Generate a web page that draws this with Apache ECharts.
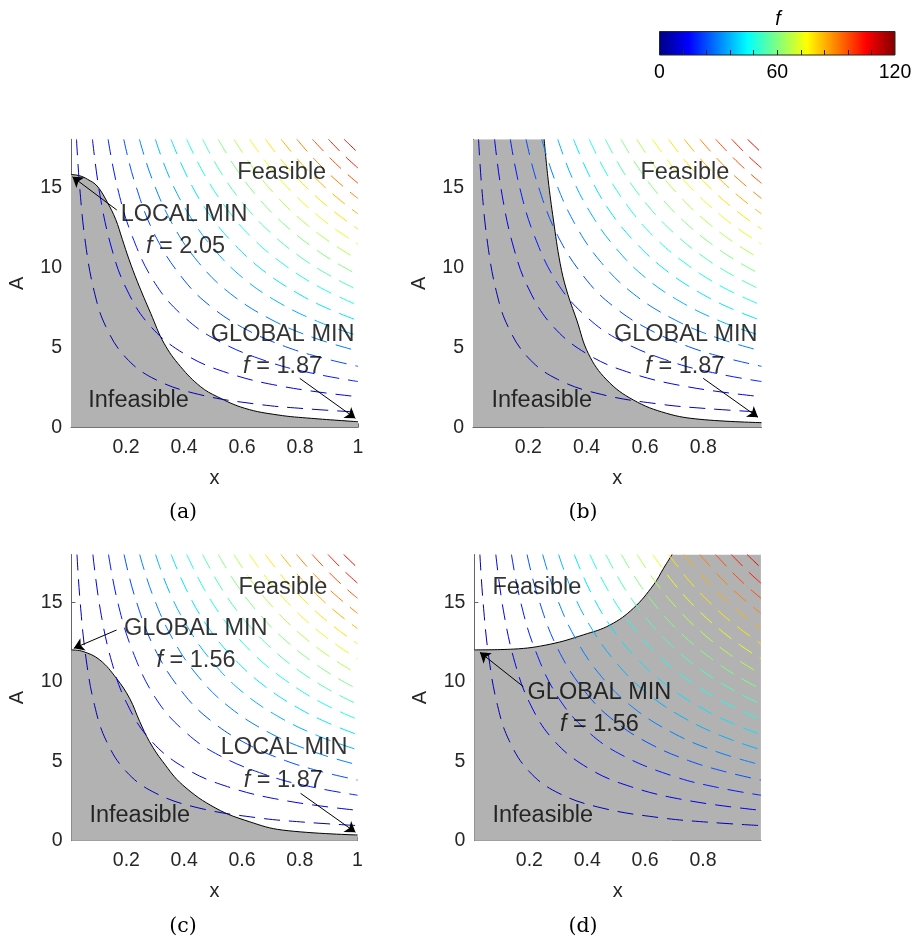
<!DOCTYPE html>
<html>
<head>
<meta charset="utf-8">
<script src="https://cdn.jsdelivr.net/npm/echarts@6/dist/echarts.min.js"></script>
<style>
  html, body { margin: 0; padding: 0; background: #fff; }
  #main { width: 916px; height: 939px; }
</style>
</head>
<body>
<div id="main"></div>
<script>
// contour levels of f (same field in all four panels)
const levels = [6, 12, 18, 24, 30, 36, 42, 48, 54, 60, 66, 72, 78, 84, 90, 96, 102, 108]
// contour lines, [x, A] points, one list per level
const contours = [
  [[0.029, 18], [0.04, 15.0], [0.06, 11.5], [0.09, 8.5], [0.13, 6.3], [0.2, 4.34], [0.3, 3.0], [0.45, 2.06], [0.65, 1.45], [0.82, 1.16], [1, 0.95]],
  [[0.084, 18], [0.11, 14.5], [0.15, 11.2], [0.2, 8.7], [0.28, 6.4], [0.4, 4.6], [0.55, 3.4], [0.75, 2.52], [1, 1.91]],
  [[0.138, 18], [0.17, 15.0], [0.22, 12.0], [0.3, 9.0], [0.4, 6.9], [0.52, 5.38], [0.7, 4.04], [0.85, 3.35], [1, 2.86]],
  [[0.192, 18], [0.23, 15.3], [0.3, 12.0], [0.4, 9.2], [0.5, 7.44], [0.62, 6.06], [0.75, 5.04], [0.87, 4.37], [1, 3.81]],
  [[0.246, 18], [0.29, 15.5], [0.36, 12.7], [0.45, 10.3], [0.56, 8.35], [0.7, 6.74], [0.85, 5.58], [1, 4.77]],
  [[0.301, 18], [0.35, 15.6], [0.42, 13.2], [0.5, 11.2], [0.6, 9.38], [0.72, 7.87], [0.86, 6.62], [1, 5.72]],
  [[0.355, 18], [0.41, 15.7], [0.48, 13.5], [0.57, 11.5], [0.68, 9.7], [0.8, 8.29], [0.9, 7.39], [1, 6.67]],
  [[0.409, 18], [0.47, 15.8], [0.55, 13.6], [0.64, 11.75], [0.75, 10.1], [0.87, 8.73], [1, 7.63]],
  [[0.464, 18], [0.53, 15.84], [0.61, 13.85], [0.7, 12.13], [0.8, 10.66], [0.9, 9.51], [1, 8.58]],
  [[0.518, 18], [0.58, 16.15], [0.66, 14.26], [0.75, 12.61], [0.85, 11.17], [0.93, 10.23], [1, 9.53]],
  [[0.572, 18], [0.64, 16.16], [0.72, 14.43], [0.8, 13.03], [0.9, 11.62], [1, 10.48]],
  [[0.626, 18], [0.7, 16.17], [0.78, 14.56], [0.86, 13.25], [0.93, 12.28], [1, 11.44]],
  [[0.681, 18], [0.75, 16.39], [0.83, 14.86], [0.91, 13.58], [1, 12.39]],
  [[0.735, 18], [0.8, 16.58], [0.87, 15.28], [0.94, 14.17], [1, 13.34]],
  [[0.789, 18], [0.85, 16.75], [0.92, 15.51], [1, 14.3]],
  [[0.843, 18], [0.9, 16.9], [0.95, 16.03], [1, 15.25]],
  [[0.898, 18], [0.95, 17.03], [1, 16.2]],
  [[0.952, 18], [0.975, 17.6], [1, 17.16]]
]

// constraint boundary of each panel
const edgeA = [[0.01, 15.8], [0.04, 15.72], [0.067, 15.5], [0.1, 15.08], [0.136, 14.04], [0.164, 13.0], [0.187, 11.75], [0.21, 10.5], [0.239, 9.1], [0.285, 7.12], [0.331, 5.25], [0.388, 3.79], [0.457, 2.54], [0.515, 1.91], [0.609, 1.19], [0.724, 0.77], [0.839, 0.56], [1, 0.35]]
const edgeB = [[0.254, 18], [0.268, 15.46], [0.286, 12.96], [0.309, 10.25], [0.331, 8.58], [0.366, 6.7], [0.406, 4.6], [0.469, 2.96], [0.56, 1.71], [0.674, 0.875], [0.789, 0.5], [1, 0.29]]
const edgeC = [[0.01, 12.0], [0.05, 11.9], [0.108, 11.37], [0.166, 10.2], [0.211, 8.96], [0.246, 7.5], [0.28, 6.23], [0.326, 4.97], [0.395, 3.5], [0.51, 2.04], [0.625, 1.2], [0.74, 0.67], [1, 0.36]]
const edgeD = [[0.01, 12.0], [0.145, 12.05], [0.272, 12.36], [0.387, 12.95], [0.479, 13.57], [0.56, 14.63], [0.629, 16.09], [0.664, 17.14], [0.693, 18]]
// infeasible strips that run along the top edge
const topB = [[0.01, 18], [0.257, 18]]
const topD = [[0.689, 18], [1, 18]]

// annotations [x, A, text]
const notesA = [[0.737, 15.93, 'Feasible'], [0.40, 13.27, 'LOCAL MIN'], [0.405, 11.33, 'f = 2.05'], [0.74, 5.83, 'GLOBAL MIN'], [0.74, 3.83, 'f = 1.87'], [0.243, 1.65, 'Infeasible']]
const notesB = [[0.737, 15.93, 'Feasible'], [0.74, 5.83, 'GLOBAL MIN'], [0.737, 3.83, 'f = 1.87'], [0.246, 1.65, 'Infeasible']]
const notesC = [[0.742, 15.92, 'Feasible'], [0.44, 13.36, 'GLOBAL MIN'], [0.441, 11.31, 'f = 1.56'], [0.746, 5.83, 'LOCAL MIN'], [0.743, 3.81, 'f = 1.87'], [0.246, 1.57, 'Infeasible']]
const notesD = [[0.226, 15.92, 'Feasible'], [0.442, 9.32, 'GLOBAL MIN'], [0.442, 7.31, 'f = 1.56'], [0.246, 1.57, 'Infeasible']]
// arrows [from, to]
const arrowsA = [[[0.168, 13.58], [0.015, 15.66]], [[0.799, 3.06], [0.991, 0.56]]]
const arrowsB = [[[0.8, 3.06], [0.988, 0.63]]]
const arrowsC = [[[0.166, 13.25], [0.018, 12.1]], [[0.803, 2.98], [0.993, 0.53]]]
const arrowsD = [[[0.179, 9.69], [0.029, 11.85]]]

const xTicksFull = [0.2, 0.4, 0.6, 0.8, 1]
const xTicksShort = [0.2, 0.4, 0.6, 0.8]
const yTicks = [0, 5, 10, 15]
const cbLabels = [0, 60, 120]
const cbTicks = [12, 24, 36, 48, 60, 72, 84, 96, 108]
const captions = ['(a)', '(b)', '(c)', '(d)']

const sans = '"Liberation Sans", Arial, Helvetica, sans-serif'
const ink = '#262626'
const grey = '#b2b2b2'

function jet(v) {
  const t = v / 120
  const c = (a) => Math.round(255 * Math.max(0, Math.min(1, a)))
  return 'rgb(' + c(1.5 - Math.abs(4 * t - 3)) + ',' + c(1.5 - Math.abs(4 * t - 2)) + ',' + c(1.5 - Math.abs(4 * t - 1)) + ')'
}

const panels = [
  { edge: edgeA, top: null, notes: notesA, arrows: arrowsA, xt: xTicksFull },
  { edge: edgeB, top: topB, notes: notesB, arrows: arrowsB, xt: xTicksShort },
  { edge: edgeC, top: null, notes: notesC, arrows: arrowsC, xt: xTicksFull },
  { edge: edgeD, top: topD, notes: notesD, arrows: arrowsD, xt: xTicksShort }
]

const grid = [
  { left: 71, top: 139.3, width: 287, height: 288 },
  { left: 473, top: 139.3, width: 288.5, height: 288 },
  { left: 71.5, top: 554.5, width: 286, height: 286.2 },
  { left: 474.4, top: 554.5, width: 286.5, height: 286.2 },
  {
    left: 659.5, top: 31.5, width: 235.5, height: 23.5, show: true,
    borderColor: ink, borderWidth: 1,
    backgroundColor: {
      type: 'linear', x: 0, y: 0, x2: 1, y2: 0,
      colorStops: [
        { offset: 0, color: '#000084' }, { offset: 0.125, color: '#0000ff' },
        { offset: 0.375, color: '#00ffff' }, { offset: 0.625, color: '#ffff00' },
        { offset: 0.875, color: '#ff0000' }, { offset: 1, color: '#800000' }
      ]
    }
  }
]
grid.forEach(g => { g.outerBoundsMode = 'none' })

const xAxis = []
const yAxis = []
const series = []

panels.forEach((p, k) => {
  xAxis.push({
    gridIndex: k, type: 'value', min: 0.01, max: 1,
    name: 'x', nameLocation: 'middle', nameGap: 41,
    nameTextStyle: { fontSize: 20, color: ink, fontFamily: sans },
    axisLine: { onZero: false, lineStyle: { color: '#666', width: 1 } },
    axisTick: { inside: true, length: 4, customValues: p.xt, lineStyle: { color: '#666' } },
    axisLabel: { customValues: p.xt, fontSize: 19.5, color: ink, fontFamily: sans, margin: 10 },
    splitLine: { show: false }
  })
  yAxis.push({
    gridIndex: k, type: 'value', min: 0, max: 18,
    name: 'A', nameLocation: 'middle', nameGap: 44, nameRotate: 90,
    nameTextStyle: { fontSize: 20, color: ink, fontFamily: sans },
    axisLine: { onZero: false, lineStyle: { color: '#666', width: 1 } },
    axisTick: { inside: true, length: 4, customValues: yTicks, lineStyle: { color: '#666' } },
    axisLabel: { customValues: yTicks, fontSize: 19.5, color: ink, fontFamily: sans, margin: 9 },
    splitLine: { show: false }
  })

  // infeasible region with its black boundary
  series.push({
    type: 'line', xAxisIndex: k, yAxisIndex: k, data: p.edge, smooth: 0.4,
    showSymbol: false, silent: true, z: 1,
    lineStyle: { color: '#000', width: 1 },
    areaStyle: { color: grey, opacity: 1 }
  })
  if (p.top) {
    series.push({
      type: 'line', xAxisIndex: k, yAxisIndex: k, data: p.top,
      showSymbol: false, silent: true, z: 1,
      lineStyle: { width: 0, opacity: 0 },
      areaStyle: { color: grey, opacity: 1 }
    })
  }
  // dashed contours of f
  contours.forEach((c, i) => {
    series.push({
      type: 'line', xAxisIndex: k, yAxisIndex: k, data: c, smooth: 0.4,
      showSymbol: false, silent: true, z: 2,
      lineStyle: { color: jet(levels[i]), width: 1, type: [16, 9] }
    })
  })
  // arrows
  series.push({
    type: 'lines', coordinateSystem: 'cartesian2d', xAxisIndex: k, yAxisIndex: k,
    silent: true, z: 5, symbol: ['none', 'arrow'], symbolSize: 10,
    lineStyle: { color: '#000', width: 1, opacity: 1 },
    data: p.arrows.map(a => ({ coords: a }))
  })
  // text notes
  series.push({
    type: 'scatter', xAxisIndex: k, yAxisIndex: k, symbolSize: 0, silent: true, z: 6,
    label: {
      show: true, position: 'inside', fontSize: 23.5, color: '#000', fontFamily: sans,
      textBorderWidth: 0,
      rich: { i: { fontStyle: 'italic', fontSize: 23.5, color: '#000', fontFamily: sans, textBorderWidth: 0 } }
    },
    data: p.notes.map(n => ({
      value: [n[0], n[1]],
      label: { formatter: n[2].replace(/^f /, '{i|f} ') }
    }))
  })
})

// colorbar axis
xAxis.push({
  gridIndex: 4, type: 'value', min: 0, max: 120,
  axisLine: { show: false },
  axisTick: { inside: true, length: 5, customValues: cbTicks, lineStyle: { color: ink } },
  axisLabel: { customValues: cbLabels, fontSize: 19.5, color: '#000', fontFamily: sans, margin: 8 },
  splitLine: { show: false }
})
yAxis.push({ gridIndex: 4, type: 'value', min: 0, max: 1, show: false })

const capPos = [[183, 513], [583, 513], [183, 927], [583, 927]]
const graphic = captions.map((t, i) => ({
  type: 'text', x: capPos[i][0], y: capPos[i][1], silent: true,
  style: { text: t, font: '20.5px "DejaVu Serif", serif', fill: '#000', align: 'center', verticalAlign: 'middle' }
}))
graphic.push({
  type: 'text', x: 778, y: 19, silent: true,
  style: { text: 'f', font: 'italic 20px ' + sans, fill: '#000', align: 'center', verticalAlign: 'middle' }
})

const chart = echarts.init(document.getElementById('main'))
chart.setOption({
  animation: false,
  backgroundColor: '#fff',
  grid: grid,
  xAxis: xAxis,
  yAxis: yAxis,
  series: series,
  graphic: graphic
})
</script>
</body>
</html>
